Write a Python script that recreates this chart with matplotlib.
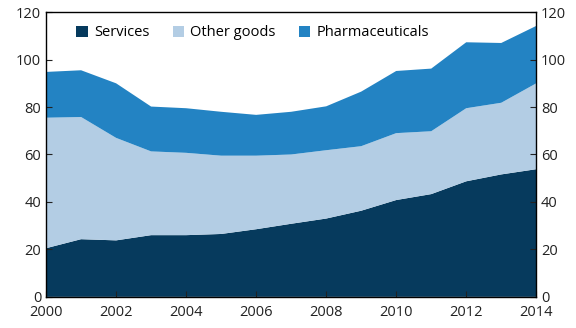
import numpy as np
import matplotlib
matplotlib.use("Agg")
import matplotlib.pyplot as plt

plt.rcParams['font.family'] = ['Open Sans', 'DejaVu Sans']

# data
years = list(range(2000, 2015))
services = [20.5, 24.3, 23.8, 26.0, 26.0, 26.5, 28.5, 30.8, 33.0, 36.3, 40.8, 43.3, 48.7, 51.6, 53.8]
other_goods_top = [75.5, 75.8, 67.0, 61.3, 60.7, 59.5, 59.5, 60.0, 61.8, 63.5, 69.0, 69.8, 79.5, 81.8, 90.0]
total = [94.8, 95.5, 90.0, 80.2, 79.5, 78.0, 76.7, 78.0, 80.3, 86.5, 95.2, 96.2, 107.3, 107.0, 114.2]

other_goods = np.array(other_goods_top) - np.array(services)
pharma = np.array(total) - np.array(other_goods_top)

colors = ['#063a5d', '#b3cde4', '#2383c3']
labels = ['Services', 'Other goods', 'Pharmaceuticals']

fig = plt.figure(figsize=(5.76, 3.28), dpi=100)
ax = fig.add_axes([0.08, 0.095, 0.851, 0.868])

ax.stackplot(years, services, other_goods, pharma, colors=colors, labels=labels, linewidth=0)

ax.set_xlim(2000, 2014)
ax.set_ylim(0, 120)
ax.set_xticks(range(2000, 2015, 2))
ax.set_yticks(range(0, 121, 20))
ax.tick_params(direction='in', length=4, labelsize=10.5, colors='#222222', right=True, labelright=True)
ax.tick_params(axis='x', pad=6)
for s in ax.spines.values():
    s.set_linewidth(1)
    s.set_color('black')

ax.legend(loc='upper left', ncol=3, frameon=False, fontsize=10.5, handlelength=0.8, handleheight=0.8,
          handletextpad=0.4, columnspacing=1.6, bbox_to_anchor=(0.035, 1.0))

fig.savefig('out.png', dpi=100)
